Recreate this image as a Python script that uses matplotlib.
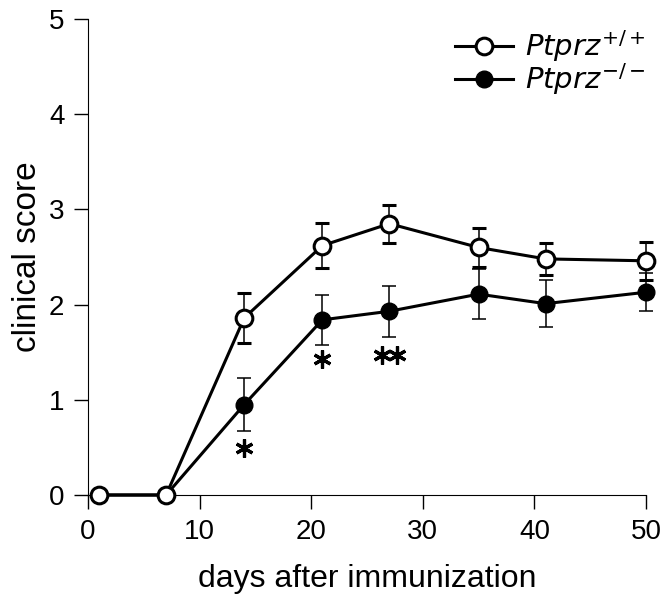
import matplotlib.pyplot as plt
from matplotlib.lines import Line2D
from matplotlib.transforms import ScaledTranslation

plt.rcParams['font.family'] = ['Liberation Sans', 'DejaVu Sans']

# data
days = [1, 7, 14, 21, 27, 35, 41, 50]
wt_score = [0, 0, 1.86, 2.62, 2.85, 2.60, 2.48, 2.46]
wt_err = [0, 0, 0.26, 0.24, 0.20, 0.20, 0.17, 0.20]
ko_score = [0, 0, 0.95, 1.84, 1.93, 2.11, 2.01, 2.13]
ko_err = [0, 0, 0.28, 0.26, 0.27, 0.26, 0.25, 0.20]

sig_days = [14, 21, 27]
sig_y = [0.49, 1.43, 1.47]
sig_stars = [1, 1, 2]

fig = plt.figure(figsize=(6.66, 5.97), dpi=100)
ax = fig.add_axes([88 / 666, 1 - 495 / 597, (646 - 88) / 666, (495 - 19) / 597])

style = dict(color='black', marker='o', ms=12, lw=2.2, elinewidth=1.1,
             capsize=5, capthick=1.1, clip_on=False)
ax.errorbar(days, ko_score, yerr=ko_err, mfc='black', mec='black',
            zorder=3, **style)
ax.errorbar(days, wt_score, yerr=wt_err, mfc='white', mec='black', mew=2.2,
            zorder=4, **style)

# significance asterisks (six-armed star markers)
star_gap = 11  # points between neighbouring stars
for d, y, n in zip(sig_days, sig_y, sig_stars):
    for i in range(n):
        dx = (i - (n - 1) / 2) * star_gap / 72
        tr = ax.transData + ScaledTranslation(dx, 0, fig.dpi_scale_trans)
        ax.plot([d], [y], marker=(6, 2, 0), ms=13, mew=2.3, color='black',
                transform=tr, zorder=5)

ax.set_xlim(0, 50)
ax.set_ylim(0, 5)
ax.set_xticks([0, 10, 20, 30, 40, 50])
ax.set_yticks([0, 1, 2, 3, 4, 5])
ax.spines['top'].set_visible(False)
ax.spines['right'].set_visible(False)
ax.tick_params(direction='out', length=10, width=1, labelsize=20, pad=7)
ax.set_xlabel('days after immunization', fontsize=23, labelpad=14)
ax.set_ylabel('clinical score', fontsize=24, labelpad=4)

handles = [
    Line2D([], [], color='black', lw=2.2, marker='o', ms=12, mfc='white', mew=2.2),
    Line2D([], [], color='black', lw=2.2, marker='o', ms=12, mfc='black'),
]
labels = [r'$\it{Ptprz}^{+/+}$', r'$\it{Ptprz}^{-/-}$']
ax.legend(handles, labels, loc='upper right', bbox_to_anchor=(1.046, 1.035),
          frameon=False, fontsize=21, handlelength=2.0, handletextpad=0.4,
          labelspacing=-0.1)

fig.savefig('out.png', dpi=100)
